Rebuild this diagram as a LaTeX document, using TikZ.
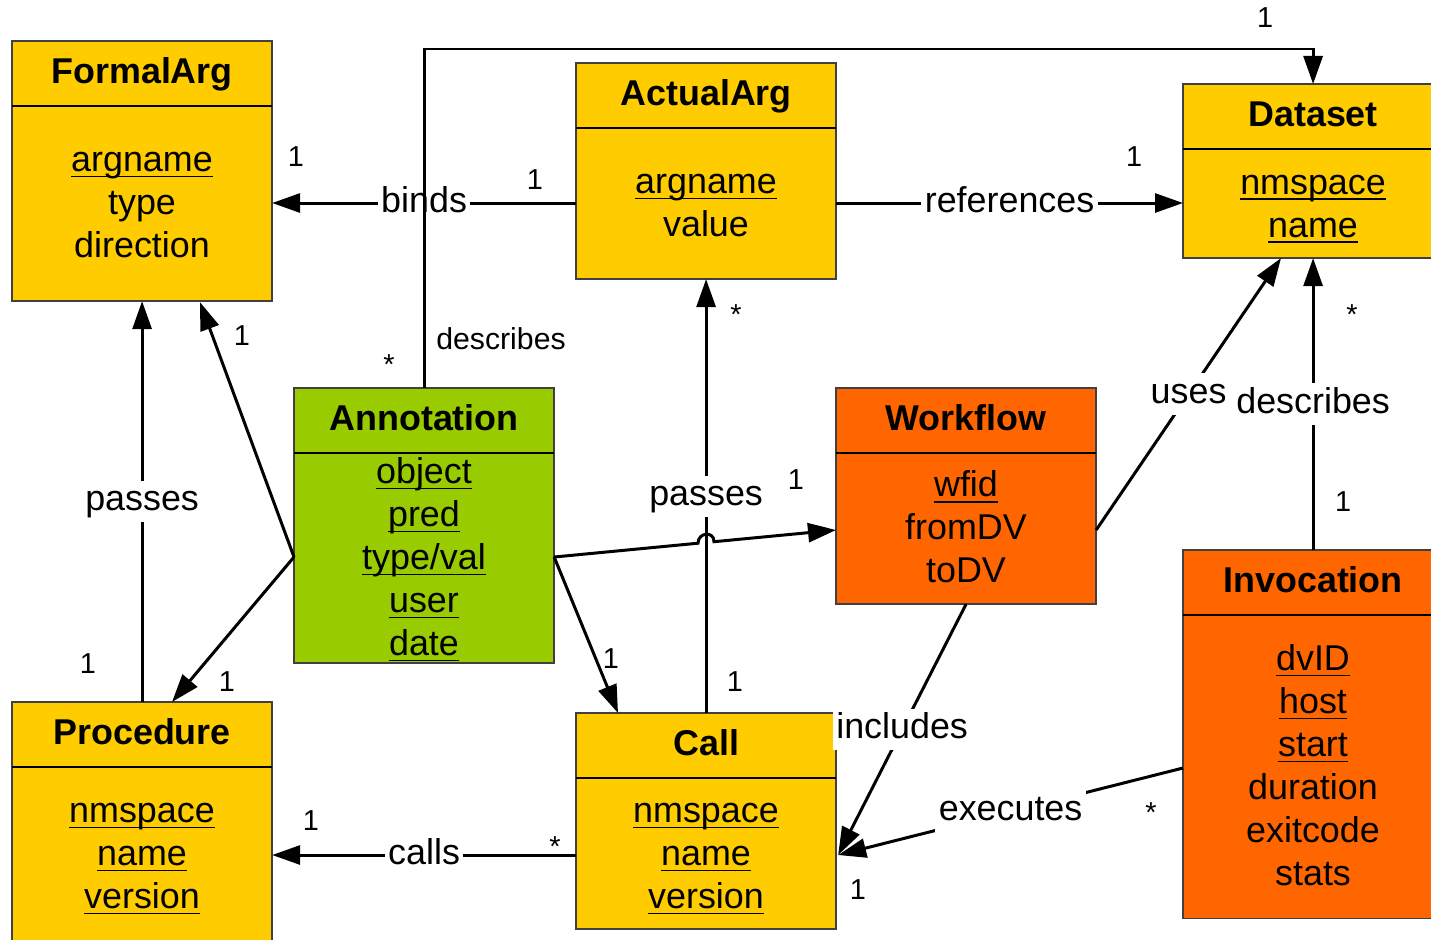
\documentclass[tikz,border=0pt]{standalone}
\usepackage{fontspec}
\setmainfont{Liberation Sans}
\usepackage{tikz}
\usetikzlibrary{calc, positioning, arrows.meta}

\definecolor{clsyellow}{HTML}{FFCC00}
\definecolor{clsgreen}{HTML}{99CC00}
\definecolor{clsorange}{HTML}{FF6600}

% underline that ignores descenders
\newcommand{\uln}[1]{\underline{\raisebox{0pt}[\height][0pt]{#1}}}

\begin{document}
\begin{tikzpicture}[
    x=0.01cm, y=-0.01cm,
    >={Triangle[length=2.8mm, width=1.9mm]},
    font=\fontsize{10.2}{12.2}\selectfont
]

    % Global styles for class boxes and connectors
    \tikzset{
        cls/.style={
            rectangle, draw=black!75, line width=0.4pt, anchor=north west,
            minimum width=2.6cm, inner sep=0pt, outer sep=0pt
        },
        ttl/.style={anchor=north, minimum height=0.65cm, inner sep=0pt,
            text height=0.75em, text depth=0.21em,
            font=\fontsize{10.2}{12.2}\selectfont\bfseries},
        sep/.style={draw=black, line width=0.4pt},
        body/.style={align=center, inner sep=0pt},
        conn/.style={->, line width=0.85pt},
        lbl/.style={fill=white, inner sep=1pt, text height=0.75em, text depth=0.22em},
        mult/.style={font=\fontsize{8.2}{10}\selectfont, inner sep=0pt}
    }

    \useasboundingbox (0,0) rectangle (1431,939);

    % FormalArg
    \node[cls, fill=clsyellow, minimum height=2.6cm] (fa) at (12,41) {};
    \node[ttl] (fa-t) at (fa.north) {FormalArg};
    \draw[sep] ($(fa.north west)+(0,65)$) -- ($(fa.north east)+(0,65)$);
    \node[body] (fa-b) at (142,205) {\uln{argname}\\type\\direction};

    % ActualArg
    \node[cls, fill=clsyellow, minimum height=2.16cm] (aa) at (576,63) {};
    \node[ttl] (aa-t) at (aa.north) {ActualArg};
    \draw[sep] ($(aa.north west)+(0,65)$) -- ($(aa.north east)+(0,65)$);
    \node[body] (aa-b) at (706,205.5) {\uln{argname}\\value};

    % Dataset
    \node[cls, fill=clsyellow, minimum height=1.74cm] (ds) at (1183,84) {};
    \node[ttl] (ds-t) at (ds.north) {Dataset};
    \draw[sep] ($(ds.north west)+(0,65)$) -- ($(ds.north east)+(0,65)$);
    \node[body] (ds-b) at (1313,209.5) {\uln{nmspace}\\\uln{name}};

    % Annotation
    \node[cls, fill=clsgreen, minimum height=2.75cm] (an) at (294,388) {};
    \node[ttl] (an-t) at (an.north) {Annotation};
    \draw[sep] ($(an.north west)+(0,65)$) -- ($(an.north east)+(0,65)$);
    \node[body] (an-b) at (424,560) {\uln{object}\\\uln{pred}\\\uln{type/val}\\\uln{user}\\\uln{date}};

    % Workflow
    \node[cls, fill=clsorange, minimum height=2.16cm] (wf) at (836,388) {};
    \node[ttl] (wf-t) at (wf.north) {Workflow};
    \draw[sep] ($(wf.north west)+(0,65)$) -- ($(wf.north east)+(0,65)$);
    \node[body] (wf-b) at (966,527) {\uln{wfid}\\fromDV\\toDV};

    % Invocation
    \node[cls, fill=clsorange, minimum height=3.68cm] (inv) at (1183,550) {};
    \node[ttl] (inv-t) at (inv.north) {Invocation};
    \draw[sep] ($(inv.north west)+(0,65)$) -- ($(inv.north east)+(0,65)$);
    \node[body] (inv-b) at (1313,765) {\uln{dvID}\\\uln{host}\\\uln{start}\\duration\\exitcode\\stats};

    % Procedure
    \node[cls, fill=clsyellow, minimum height=2.6cm] (pr) at (12,702) {};
    \node[ttl] (pr-t) at (pr.north) {Procedure};
    \draw[sep] ($(pr.north west)+(0,65)$) -- ($(pr.north east)+(0,65)$);
    \node[body] (pr-b) at (142,859.5) {\uln{nmspace}\\\uln{name}\\\uln{version}};

    % Call
    \node[cls, fill=clsyellow, minimum height=2.16cm] (call) at (576,713) {};
    \node[ttl] (call-t) at (call.north) {Call};
    \draw[sep] ($(call.north west)+(0,65)$) -- ($(call.north east)+(0,65)$);
    \node[body] (call-b) at (706,859.5) {\uln{nmspace}\\\uln{name}\\\uln{version}};

    % Attachment points off the box edges
    \coordinate (anL) at ($(an.north west)+(0,169)$);
    \coordinate (anR) at ($(an.north east)+(0,169)$);
    \coordinate (wfL) at ($(wf.north west)+(0,142)$);
    \coordinate (wfR) at ($(wf.north east)+(0,142)$);
    \coordinate (callR) at ($(call.north east)+(2,142)$);
    \coordinate (hopA) at (698,543.2);
    \coordinate (hopB) at (714,541.7);

    % ActualArg -> FormalArg, ActualArg -> Dataset
    \draw[conn] ($(aa.north west)+(0,140)$) -- node[lbl] (l-binds) {binds} ($(fa.north east)+(0,162)$);
    \draw[conn] ($(aa.north east)+(0,140)$) -- node[lbl] (l-refs) {references} ($(ds.north west)+(0,119)$);

    % Annotation describes Dataset
    \draw[conn] (an.north) -- ++(0,-339) -| (ds.north);
    \node[font=\fontsize{8.6}{10}\selectfont] (l-desc1) at (501,339) {describes};

    % Passes
    \draw[conn] (pr.north) -- node[lbl] (l-pass1) {passes} (fa.south);
    \draw[conn] (call.north) -- node[lbl] (l-pass2) {passes} (aa.south);

    % Annotation links
    \draw[conn] (anL) -- ($(fa.south west)+(188,1)$);
    \draw[conn] (anL) -- ($(pr.north west)+(160,0)$);
    \draw[conn] (anR) -- ($(call.north west)+(42,0)$);
    \draw[conn] (anR) -- (hopA) .. controls +(0,-11) and +(0,-11) .. (hopB) -- (wfL);

    % Workflow / Invocation -> Dataset
    \draw[conn] (wfR) -- node[lbl] (l-uses) {uses} ($(ds.south west)+(98,0)$);
    \draw[conn] (inv.north) -- node[lbl] (l-desc2) {describes} (ds.south);

    % Workflow / Invocation -> Call
    \draw[conn] (wf.south) -- node[lbl] (l-incl) {includes} (callR);
    \draw[conn] ($(inv.north west)+(0,218)$) -- node[lbl] (l-exec) {executes} (callR);

    % Call -> Procedure
    \draw[conn] ($(call.north west)+(0,142)$) -- node[lbl] (l-calls) {calls} ($(pr.north east)+(0,153)$);

    % Multiplicities
    \node[mult] (m1) at (296,157) {1};
    \node[mult] (m2) at (535,180) {1};
    \node[mult] (m3) at (1134,157) {1};
    \node[mult] (m4) at (1265,18) {1};
    \node[mult] (m5) at (389,365) {*};
    \node[mult] (m6) at (242,336) {1};
    \node[mult] (m7) at (88,664) {1};
    \node[mult] (m8) at (227,682) {1};
    \node[mult] (m9) at (611,659) {1};
    \node[mult] (m10) at (796,480) {1};
    \node[mult] (m11) at (736,315) {*};
    \node[mult] (m12) at (735,682) {1};
    \node[mult] (m13) at (1352,315) {*};
    \node[mult] (m14) at (1343,502) {1};
    \node[mult] (m15) at (1151,813) {*};
    \node[mult] (m16) at (858,890) {1};
    \node[mult] (m17) at (311,821) {1};
    \node[mult] (m18) at (555,847) {*};

\end{tikzpicture}
\end{document}
